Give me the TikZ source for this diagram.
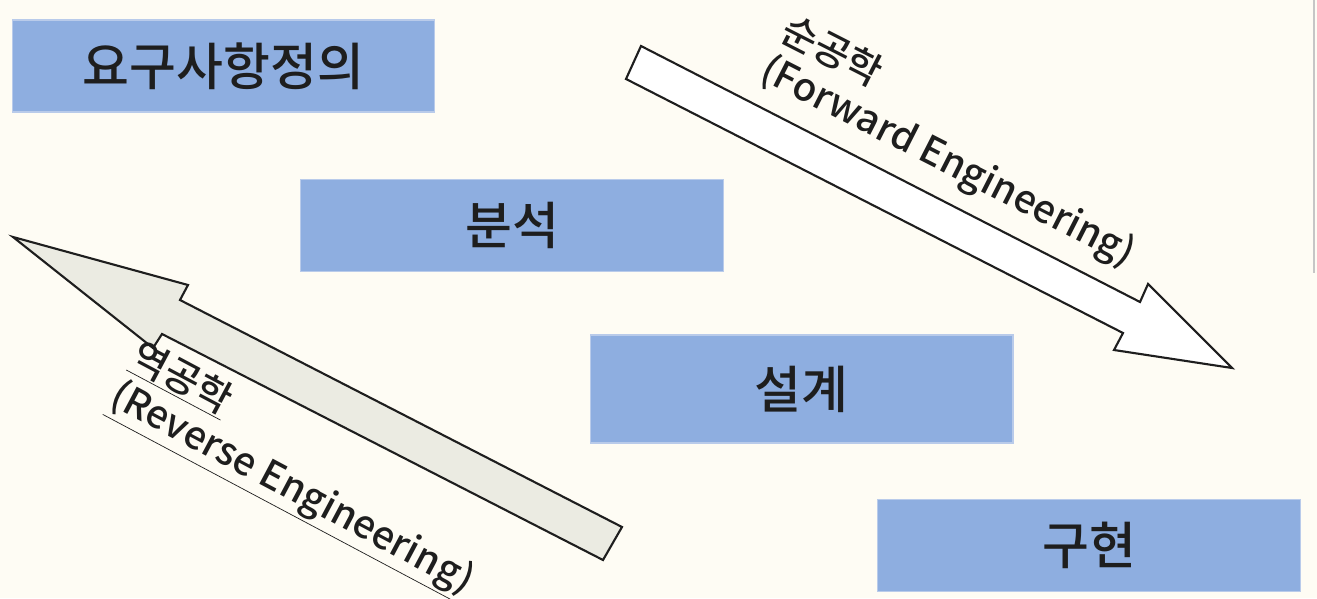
\documentclass[tikz,border=0pt]{standalone}
\usepackage{fontspec}
\IfFontExistsTF{Noto Sans CJK KR Medium}
  {\setmainfont{Noto Sans CJK KR Medium}}
  {\setmainfont{Noto Sans CJK KR}}

\definecolor{paper}{HTML}{FEFCF4}
\definecolor{stageblue}{HTML}{8EAEE0}
\definecolor{stageedge}{HTML}{B9CBEA}
\definecolor{revfill}{HTML}{EBEBE2}
\definecolor{ink}{HTML}{1E1E1E}

\tikzset{
  stage/.style={
    fill=stageblue, draw=stageedge, line width=0.6pt,
    minimum width=8.46cm, minimum height=1.84cm,
    inner sep=0pt, text=ink,
    font=\fontsize{29pt}{33pt}\selectfont
  },
  blockarrow/.style={draw=ink, line width=1.2pt, line join=miter},
  sidelabel/.style={
    anchor=north west, align=left,
    inner sep=0pt, text=ink,
    font=\fontsize{22pt}{25pt}\selectfont
  }
}

\begin{document}
\begin{tikzpicture}[x=0.02cm, y=-0.02cm]

  % Fondo
  \fill[paper] (0,0) rectangle (1317,598);
  \useasboundingbox (0,0) rectangle (1317,598);
  \draw[gray!45, line width=0.8pt] (1314,0) -- (1314,273);

  % Etapas
  \node[stage] (req) at (223.5,66) {요구사항정의};
  \node[stage] (ana) at (512,225.5) {분석};
  \node[stage, minimum height=2.16cm] (des) at (801.5,389) {설계};
  \node[stage] (imp) at (1089,545.5) {구현};

  % Flecha hacia adelante
  \draw[blockarrow, fill=white]
    (641,46) -- (1140,302) -- (1148,284) -- (1232,368)
    -- (1114,350) -- (1123,333) -- (626,79) -- cycle;

  % Flecha inversa
  \draw[blockarrow, fill=revfill]
    (13,237) -- (188,285) -- (180,300) -- (622,527)
    -- (603,560) -- (162,334) -- (153,348) -- cycle;

  % Etiquetas
  \node[sidelabel, rotate=-27] (fwd) at (793,10)
    {순공학\\(Forward Engineering)};

  \node[sidelabel, rotate=-28] (rev) at (144,336)
    {\underline{역공학}\\\underline{(Reverse Engineering)}};

\end{tikzpicture}
\end{document}
